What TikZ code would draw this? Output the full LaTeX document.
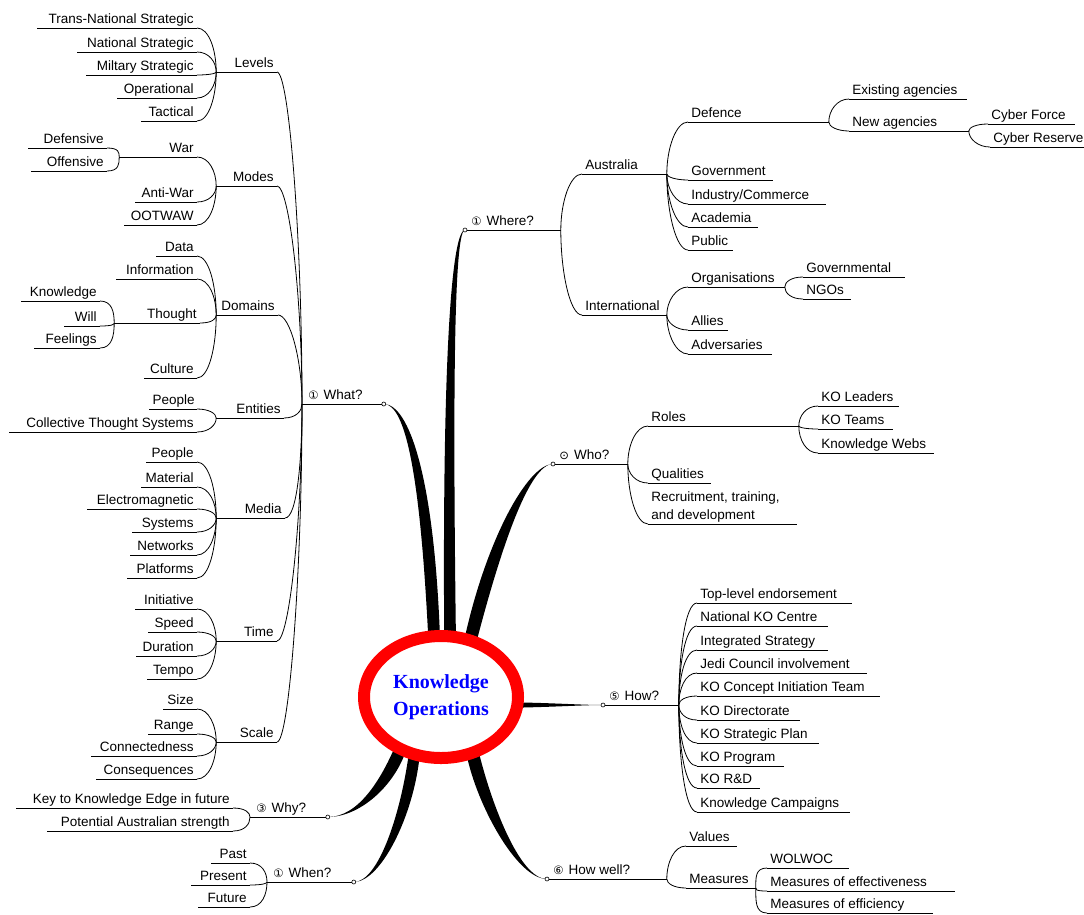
\documentclass[tikz,border=0pt]{standalone}
\usepackage{fontspec}
\setmainfont{Liberation Sans}
\newfontfamily\kofont{Liberation Serif}
\newfontfamily\iconfont{DejaVu Sans}
\usetikzlibrary{calc,shapes.geometric,backgrounds}
\newcommand{\ico}[1]{\hspace{3pt}{\iconfont\fontsize{11.5}{11.5}\selectfont #1}\hspace{5pt}}

\tikzset{
  tx/.style={font=\fontsize{13.5}{18}\selectfont, inner xsep=3pt, inner ysep=1pt,
    text height=10pt, text depth=3pt,
    append after command={(\tikzlastnode.south west) edge (\tikzlastnode.south east)}},
  rt/.style={tx, anchor=south west,
    execute at begin node={\hbox to \dimexpr#1pt-6pt\relax\bgroup},
    execute at end node={\hfil\egroup}},
  lt/.style={tx, anchor=south east,
    execute at begin node={\hbox to \dimexpr#1pt-6pt\relax\bgroup\hfil},
    execute at end node={\egroup}},
  lb/.style={to path={.. controls ($(\tikztostart)!.5!(\tikztostart|-\tikztotarget)$)
    and ($(\tikztotarget)+(12,0)$) .. (\tikztotarget)}},
  rb/.style={to path={.. controls ($(\tikztostart)!.5!(\tikztostart|-\tikztotarget)$)
    and ($(\tikztotarget)+(-12,0)$) .. (\tikztotarget)}},
  knot/.style={fill=white, line width=0.6pt},
}

\begin{document}
\begin{tikzpicture}[x=1pt, y=-1pt, line width=0.8pt]
  \useasboundingbox (0,0) rectangle (1084,914);

  \node[ellipse, draw=red, line width=12pt, fill=white, outer sep=0pt,
    minimum width=154pt, minimum height=122pt, inner sep=0pt, align=center,
    text=blue, font=\kofont\bfseries\fontsize{20}{27}\selectfont]
    (ko) at (441,697) {Knowledge\\Operations};

  % what?
  \node[rt=81] (what) at (302,404) {\ico{①}What?};
  \node[lt=60] (levels) at (277,72) {Levels};
  \node[lt=60] (modes) at (277,186) {Modes};
  \node[lt=61] (domains) at (278,315) {Domains};
  \node[lt=67] (entities) at (284,418) {Entities};
  \node[lt=68] (media) at (285,518) {Media};
  \node[lt=60] (time) at (277,641) {Time};
  \node[lt=60] (scale) at (277,742) {Scale};

  \node[lt=159] (transnat) at (197,28) {Trans-National Strategic};
  \node[lt=119] (national) at (197,52) {National Strategic};
  \node[lt=110] (military) at (197,75) {Miltary Strategic};
  \node[lt=79] (operational) at (197,98) {Operational};
  \node[lt=55] (tactical) at (197,121) {Tactical};

  \node[lt=77] (war) at (197,157) {War};
  \node[lt=61] (antiwar) at (197,202) {Anti-War};
  \node[lt=72] (ootwaw) at (197,225) {OOTWAW};
  \node[lt=78] (defensive) at (107,148) {Defensive};
  \node[lt=75] (offensive) at (107,171) {Offensive};

  \node[lt=40] (data) at (197,256) {Data};
  \node[lt=80] (information) at (197,279) {Information};
  \node[lt=85] (thought) at (200,323) {Thought};
  \node[lt=52] (culture) at (197,378) {Culture};
  \node[lt=78] (knowledge) at (100,301) {Knowledge};
  \node[lt=35] (will) at (100,326) {Will};
  \node[lt=65] (feelings) at (100,348) {Feelings};

  \node[lt=47] (people) at (197,409) {People};
  \node[lt=187] (collective) at (197,432) {Collective Thought Systems};

  \node[lt=50] (mpeople) at (197,462) {People};
  \node[lt=55] (material) at (197,487) {Material};
  \node[lt=109] (electro) at (197,509) {Electromagnetic};
  \node[lt=64] (systems) at (197,532) {Systems};
  \node[lt=66] (networks) at (197,555) {Networks};
  \node[lt=69] (platforms) at (197,578) {Platforms};

  \node[lt=61] (initiative) at (197,609) {Initiative};
  \node[lt=48] (speed) at (197,632) {Speed};
  \node[lt=60] (duration) at (197,656) {Duration};
  \node[lt=49] (tempo) at (197,679) {Tempo};

  \node[lt=33] (size) at (197,709) {Size};
  \node[lt=48] (range) at (197,734) {Range};
  \node[lt=105] (connected) at (197,756) {Connectedness};
  \node[lt=100] (consequences) at (197,779) {Consequences};

  % why? and when?
  \node[rt=77] (why) at (250,817) {\ico{③}Why?};
  \node[lt=216] (keyedge) at (233,808) {Key to Knowledge Edge in future};
  \node[lt=185] (potential) at (233,831) {Potential Australian strength};

  \node[rt=86] (when) at (267,882) {\ico{①}When?};
  \node[lt=38] (past) at (250,863) {Past};
  \node[lt=58] (present) at (250,885) {Present};
  \node[lt=51] (future) at (250,907) {Future};

  % where?
  \node[rt=95] (where) at (465,230) {\ico{①}Where?};
  \node[rt=84] (australia) at (582,174) {Australia};
  \node[rt=84] (international) at (582,315) {International};
  \node[rt=140] (defence) at (688,122) {Defence};
  \node[rt=84] (government) at (688,180) {Government};
  \node[rt=137] (industry) at (688,204) {Industry/Commerce};
  \node[rt=69] (academia) at (688,227) {Academia};
  \node[rt=44] (public) at (688,250) {Public};
  \node[rt=117] (existing) at (849,99) {Existing agencies};
  \node[rt=119] (newagencies) at (849,131) {New agencies};
  \node[rt=86] (cyberforce) at (988,124) {Cyber Force};
  \node[rt=110] (cyberreserve) at (990,147) {Cyber Reserve};
  \node[rt=96] (organisations) at (688,287) {Organisations};
  \node[rt=101] (governmental) at (803,277) {Governmental};
  \node[rt=47] (ngos) at (803,299) {NGOs};
  \node[rt=39] (allies) at (688,330) {Allies};
  \node[rt=83] (adversaries) at (688,354) {Adversaries};

  % who?
  \node[rt=74] (who) at (553,464) {\ico{⊙}Who?};
  \node[rt=150] (roles) at (648,426) {Roles};
  \node[rt=80] (koleaders) at (818,406) {KO Leaders};
  \node[rt=74] (koteams) at (818,429) {KO Teams};
  \node[rt=115] (kowebs) at (818,453) {Knowledge Webs};
  \node[rt=62] (qualities) at (648,483) {Qualities};
  \node[rt=148] (recruitment) at (648,524)
    {\begin{tabular}[b]{@{}l@{}}Recruitment, training,\\and development\end{tabular}};

  % how?
  \node[rt=75] (how) at (603,705) {\ico{⑤}How?};
  \node[rt=154] (toplevel) at (697,603) {Top-level endorsement};
  \node[rt=130] (nationalko) at (697,626) {National KO Centre};
  \node[rt=130] (integrated) at (697,650) {Integrated Strategy};
  \node[rt=169] (jedi) at (697,673) {Jedi Council involvement};
  \node[rt=182] (koconcept) at (697,696) {KO Concept Initiation Team};
  \node[rt=102] (kodirectorate) at (697,720) {KO Directorate};
  \node[rt=121] (koplan) at (697,743) {KO Strategic Plan};
  \node[rt=86] (koprogram) at (697,766) {KO Program};
  \node[rt=62] (kord) at (697,788) {KO R\&D};
  \node[rt=152] (campaigns) at (697,812) {Knowledge Campaigns};

  % how well?
  \node[rt=119] (howwell) at (547,879) {\ico{⑥}How well?};
  \node[rt=50] (values) at (686,846) {Values};
  \node[rt=69] (measures) at (686,888) {Measures};
  \node[rt=81] (wolwoc) at (767,868) {WOLWOC};
  \node[rt=187] (effectiveness) at (767,891) {Measures of effectiveness};
  \node[rt=165] (efficiency) at (767,913) {Measures of efficiency};

  % thin branches
  \draw (what.south west) edge[lb] (levels.south east) edge[lb] (modes.south east)
    edge[lb] (domains.south east) edge[lb] (entities.south east)
    edge[lb] (media.south east) edge[lb] (time.south east) edge[lb] (scale.south east);
  \draw (levels.south west) edge[lb] (transnat.south east) edge[lb] (national.south east)
    edge[lb] (military.south east) edge[lb] (operational.south east)
    edge[lb] (tactical.south east);
  \draw (modes.south west) edge[lb] (war.south east) edge[lb] (antiwar.south east)
    edge[lb] (ootwaw.south east);
  \draw (war.south west) edge[lb] (defensive.south east) edge[lb] (offensive.south east);
  \draw (domains.south west) edge[lb] (data.south east) edge[lb] (information.south east)
    edge[lb] (thought.south east) edge[lb] (culture.south east);
  \draw (thought.south west) edge[lb] (knowledge.south east) edge[lb] (will.south east)
    edge[lb] (feelings.south east);
  \draw (entities.south west) edge[lb] (people.south east) edge[lb] (collective.south east);
  \draw (media.south west) edge[lb] (mpeople.south east) edge[lb] (material.south east)
    edge[lb] (electro.south east) edge[lb] (systems.south east)
    edge[lb] (networks.south east) edge[lb] (platforms.south east);
  \draw (time.south west) edge[lb] (initiative.south east) edge[lb] (speed.south east)
    edge[lb] (duration.south east) edge[lb] (tempo.south east);
  \draw (scale.south west) edge[lb] (size.south east) edge[lb] (range.south east)
    edge[lb] (connected.south east) edge[lb] (consequences.south east);
  \draw (why.south west) edge[lb] (keyedge.south east) edge[lb] (potential.south east);
  \draw (when.south west) edge[lb] (past.south east) edge[lb] (present.south east)
    edge[lb] (future.south east);

  \draw (where.south east) edge[rb] (australia.south west) edge[rb] (international.south west);
  \draw (australia.south east) edge[rb] (defence.south west) edge[rb] (government.south west)
    edge[rb] (industry.south west) edge[rb] (academia.south west) edge[rb] (public.south west);
  \draw (defence.south east) edge[rb] (existing.south west) edge[rb] (newagencies.south west);
  \draw (newagencies.south east) edge[rb] (cyberforce.south west)
    edge[rb] (cyberreserve.south west);
  \draw (international.south east) edge[rb] (organisations.south west)
    edge[rb] (allies.south west) edge[rb] (adversaries.south west);
  \draw (organisations.south east) edge[rb] (governmental.south west) edge[rb] (ngos.south west);
  \draw (who.south east) edge[rb] (roles.south west) edge[rb] (qualities.south west)
    edge[rb] (recruitment.south west);
  \draw (roles.south east) edge[rb] (koleaders.south west) edge[rb] (koteams.south west)
    edge[rb] (kowebs.south west);
  \draw (how.south east) edge[rb] (toplevel.south west) edge[rb] (nationalko.south west)
    edge[rb] (integrated.south west) edge[rb] (jedi.south west)
    edge[rb] (koconcept.south west) edge[rb] (kodirectorate.south west)
    edge[rb] (koplan.south west) edge[rb] (koprogram.south west)
    edge[rb] (kord.south west) edge[rb] (campaigns.south west);
  \draw (howwell.south east) edge[rb] (values.south west) edge[rb] (measures.south west);
  \draw (measures.south east) edge[rb] (wolwoc.south west) edge[rb] (effectiveness.south west)
    edge[rb] (efficiency.south west);

  % thick stems behind the centre
  \begin{pgfonlayer}{background}
    \fill (what.south east) .. controls +(22,0) and +(-8,-160) .. (ko.102)
      -- (ko.91) .. controls +(-6,-160) and +(25,0) .. (what.south east);
    \fill (where.south west) .. controls +(-12,0) and +(-2,-300) .. (ko.87)
      -- (ko.76) .. controls +(-4,-300) and +(-9,0) .. (where.south west);
    \fill (who.south west) .. controls +(-25,0) and +(22,-100) .. (ko.68)
      -- (ko.57) .. controls +(26,-100) and +(-23,0) .. (who.south west);
    \fill (ko.-4) .. controls +(45,1) and +(-20,0) .. (how.south west)
      .. controls +(-20,0) and +(45,-1) .. (ko.-8) -- cycle;
    \fill (howwell.south west) .. controls +(-30,0) and +(10,50) .. (ko.-66)
      -- (ko.-55) .. controls +(12,50) and +(-28,0) .. (howwell.south west);
    \fill (why.south east) .. controls +(30,0) and +(-15,35) .. (ko.-133)
      -- (ko.-123) .. controls +(-12,35) and +(32,0) .. (why.south east);
    \fill (when.south east) .. controls +(25,0) and +(-8,60) .. (ko.-120)
      -- (ko.-110) .. controls +(-6,60) and +(27,0) .. (when.south east);
  \end{pgfonlayer}

  \draw[knot] (what.south east) circle (2pt) (where.south west) circle (2pt)
    (who.south west) circle (2pt) (how.south west) circle (2pt)
    (howwell.south west) circle (2pt) (why.south east) circle (2pt)
    (when.south east) circle (2pt);
\end{tikzpicture}
\end{document}
